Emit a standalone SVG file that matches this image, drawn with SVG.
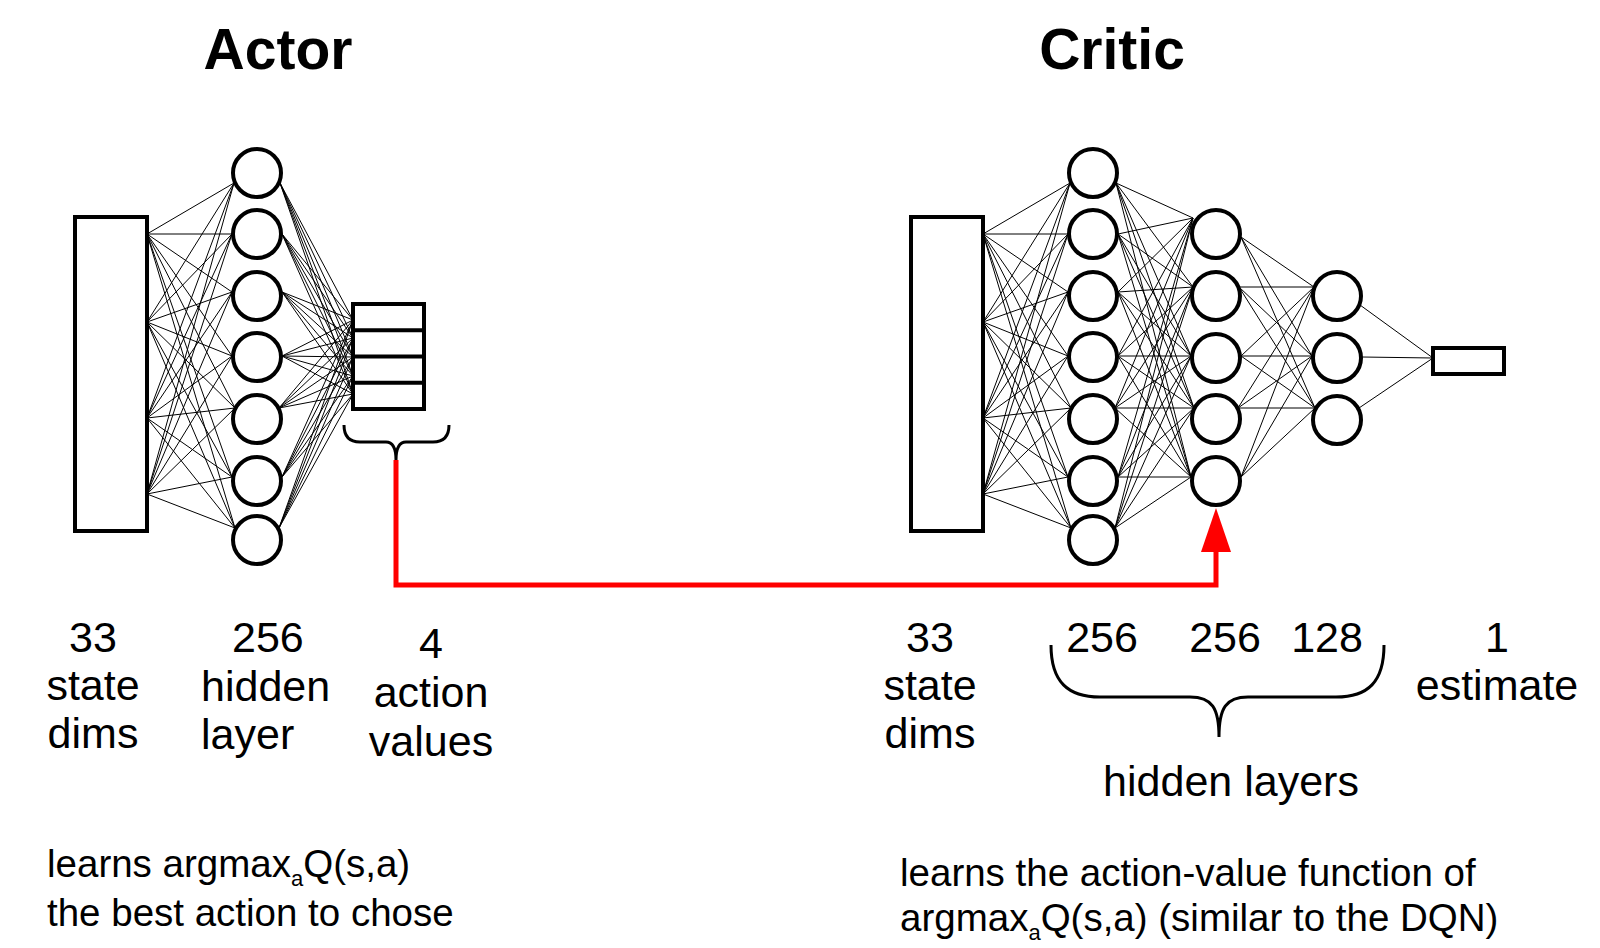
<svg xmlns="http://www.w3.org/2000/svg" width="1600" height="948" viewBox="0 0 1600 948">
<defs>
<style>
.box{fill:#fff;stroke:#000;stroke-width:4}
.nd{fill:#fff;stroke:#000;stroke-width:4}
.wire{fill:none;stroke:#000;stroke-width:1}
.brace{fill:none;stroke:#000;stroke-width:3}
.red{fill:none;stroke:#ff0000;stroke-width:5}
.title{font-family:"Liberation Sans",Arial,sans-serif;font-weight:bold;font-size:57px;fill:#000}
.lbl{font-family:"Liberation Sans",Arial,sans-serif;font-size:43px;fill:#000}
.note{font-family:"Liberation Sans",Arial,sans-serif;font-size:38.5px;fill:#000}
.sub{font-size:22px}
</style>
<marker id="redArrow" markerUnits="userSpaceOnUse" markerWidth="44" markerHeight="30" refX="0" refY="15" orient="auto" viewBox="0 0 44 30">
<path d="M0,0 L44,15 L0,30 Z" fill="#ff0000"/>
</marker>
</defs>
<rect width="1600" height="948" fill="#fff"/>

<g id="connectors">
<!-- actor input -> hidden -->
<path class="wire" d="M147 234L234 183M147 234L232 234M147 234L232 292M147 234L232 356M147 234L235 408M147 234L232 477M147 234L235 528
M147 322L234 183M147 322L232 234M147 322L232 292M147 322L232 356M147 322L235 408M147 322L232 477M147 322L235 528
M147 418L234 183M147 418L232 234M147 418L232 292M147 418L232 356M147 418L235 408M147 418L232 477M147 418L235 528
M147 494L234 183M147 494L232 234M147 494L232 292M147 494L232 356M147 494L235 408M147 494L232 477M147 494L235 528"/>
<!-- actor hidden -> action values -->
<path class="wire" d="M280 183L353 320M280 183L353 338M280 183L353 357M280 183L353 376M280 183L353 394
M282 234L353 320M282 234L353 338M282 234L353 357M282 234L353 376M282 234L353 394
M282 292L353 320M282 292L353 338M282 292L353 357M282 292L353 376M282 292L353 394
M282 356L353 320M282 356L353 338M282 356L353 357M282 356L353 376M282 356L353 394
M279 408L353 320M279 408L353 338M279 408L353 357M279 408L353 376M279 408L353 394
M282 477L353 320M282 477L353 338M282 477L353 357M282 477L353 376M282 477L353 394
M279 528L353 320M279 528L353 338M279 528L353 357M279 528L353 376M279 528L353 394"/>
<!-- critic input -> layer 1 -->
<path class="wire" d="M983 234L1070 183M983 234L1068 234M983 234L1068 292M983 234L1068 356M983 234L1071 408M983 234L1068 477M983 234L1071 528
M983 322L1070 183M983 322L1068 234M983 322L1068 292M983 322L1068 356M983 322L1071 408M983 322L1068 477M983 322L1071 528
M983 418L1070 183M983 418L1068 234M983 418L1068 292M983 418L1068 356M983 418L1071 408M983 418L1068 477M983 418L1071 528
M983 494L1070 183M983 494L1068 234M983 494L1068 292M983 494L1068 356M983 494L1071 408M983 494L1068 477M983 494L1071 528"/>
<!-- critic layer 1 -> layer 2 -->
<path class="wire" d="M1116 183L1193 218M1116 183L1193 287M1116 183L1191 356M1116 183L1194 408M1116 183L1191 477
M1118 234L1193 218M1118 234L1193 287M1118 234L1191 356M1118 234L1194 408M1118 234L1191 477
M1118 292L1193 218M1118 292L1193 287M1118 292L1191 356M1118 292L1194 408M1118 292L1191 477
M1118 356L1193 218M1118 356L1193 287M1118 356L1191 356M1118 356L1194 408M1118 356L1191 477
M1115 408L1193 218M1115 408L1193 287M1115 408L1191 356M1115 408L1194 408M1115 408L1191 477
M1118 477L1193 218M1118 477L1193 287M1118 477L1191 356M1118 477L1194 408M1118 477L1191 477
M1115 528L1193 218M1115 528L1193 287M1115 528L1191 356M1115 528L1194 408M1115 528L1191 477"/>
<!-- critic layer 2 -> layer 3 -->
<path class="wire" d="M1241 237L1314 287M1241 237L1312 356M1241 237L1315 408
M1239 287L1314 287M1239 287L1312 356M1239 287L1315 408
M1241 356L1314 287M1241 356L1312 356M1241 356L1315 408
M1238 408L1314 287M1238 408L1312 356M1238 408L1315 408
M1241 477L1314 287M1241 477L1312 356M1241 477L1315 408"/>
<!-- critic layer 3 -> estimate -->
<path class="wire" d="M1360 305L1433 358M1362 357L1433 358M1359 408L1433 358"/>
<!-- actor action values -> critic hidden layer 2 -->
<path id="actionToCritic" class="red" d="M396 460L396 585L1216 585L1216 552" stroke-linejoin="miter" marker-end="url(#redArrow)"/>
</g>

<g id="title-actor"><text class="title" x="278" y="69" text-anchor="middle">Actor</text></g>
<g id="title-critic"><text class="title" x="1112" y="69" text-anchor="middle">Critic</text></g>

<g id="actor-input"><rect class="box" x="75" y="217" width="72" height="314"/></g>
<g id="actor-hidden">
<circle class="nd" cx="257" cy="173" r="24"/>
<circle class="nd" cx="257" cy="234" r="24"/>
<circle class="nd" cx="257" cy="296" r="24"/>
<circle class="nd" cx="257" cy="357" r="24"/>
<circle class="nd" cx="257" cy="419" r="24"/>
<circle class="nd" cx="257" cy="481" r="24"/>
<circle class="nd" cx="257" cy="540" r="24"/>
</g>
<g id="actor-output">
<rect class="box" x="353" y="304" width="71" height="105"/>
<path class="box" d="M353 330.3H424M353 356.5H424M353 382.8H424"/>
</g>
<g id="actor-brace"><path class="brace" d="M344 425Q344 442 360 442L386 442Q396 442 396 460Q396 442 406 442L433 442Q449 442 449 425"/></g>

<g id="critic-input"><rect class="box" x="911" y="217" width="72" height="314"/></g>
<g id="critic-hidden1">
<circle class="nd" cx="1093" cy="173" r="24"/>
<circle class="nd" cx="1093" cy="234" r="24"/>
<circle class="nd" cx="1093" cy="296" r="24"/>
<circle class="nd" cx="1093" cy="357" r="24"/>
<circle class="nd" cx="1093" cy="419" r="24"/>
<circle class="nd" cx="1093" cy="481" r="24"/>
<circle class="nd" cx="1093" cy="540" r="24"/>
</g>
<g id="critic-hidden2">
<circle class="nd" cx="1216" cy="234" r="24"/>
<circle class="nd" cx="1216" cy="296" r="24"/>
<circle class="nd" cx="1216" cy="358" r="24"/>
<circle class="nd" cx="1216" cy="419" r="24"/>
<circle class="nd" cx="1216" cy="481" r="24"/>
</g>
<g id="critic-hidden3">
<circle class="nd" cx="1337" cy="296" r="24"/>
<circle class="nd" cx="1337" cy="358" r="24"/>
<circle class="nd" cx="1337" cy="420" r="24"/>
</g>
<g id="critic-output"><rect class="box" x="1433" y="348" width="71" height="26"/></g>
<g id="critic-brace"><path class="brace" d="M1051 645C1051 682 1068 697 1100 697L1190 697C1212 697 1219 708 1219 737C1219 708 1226 697 1248 697L1336 697C1368 697 1384 682 1384 645"/></g>

<g id="actor-labels" class="lbl">
<text x="93" y="652" text-anchor="middle">33</text>
<text x="93" y="700" text-anchor="middle">state</text>
<text x="93" y="748" text-anchor="middle">dims</text>
<text x="232" y="652">256</text>
<text x="201" y="701">hidden</text>
<text x="201" y="749">layer</text>
<text x="431" y="658" text-anchor="middle">4</text>
<text x="431" y="707" text-anchor="middle">action</text>
<text x="431" y="756" text-anchor="middle">values</text>
</g>
<g id="critic-labels" class="lbl">
<text x="930" y="652" text-anchor="middle">33</text>
<text x="930" y="700" text-anchor="middle">state</text>
<text x="930" y="748" text-anchor="middle">dims</text>
<text x="1102" y="652" text-anchor="middle">256</text>
<text x="1225" y="652" text-anchor="middle">256</text>
<text x="1327" y="652" text-anchor="middle">128</text>
<text x="1497" y="652" text-anchor="middle">1</text>
<text x="1497" y="700" text-anchor="middle">estimate</text>
<text x="1231" y="796" text-anchor="middle">hidden layers</text>
</g>

<g id="actor-note" class="note">
<text x="47" y="877">learns argmax<tspan class="sub" dy="9">a</tspan><tspan dy="-9">Q(s,a)</tspan></text>
<text x="47" y="926">the best action to chose</text>
</g>
<g id="critic-note" class="note">
<text x="900" y="886">learns the action-value function of</text>
<text x="900" y="931">argmax<tspan class="sub" dy="9">a</tspan><tspan dy="-9">Q(s,a) (similar to the DQN)</tspan></text>
</g>
</svg>
